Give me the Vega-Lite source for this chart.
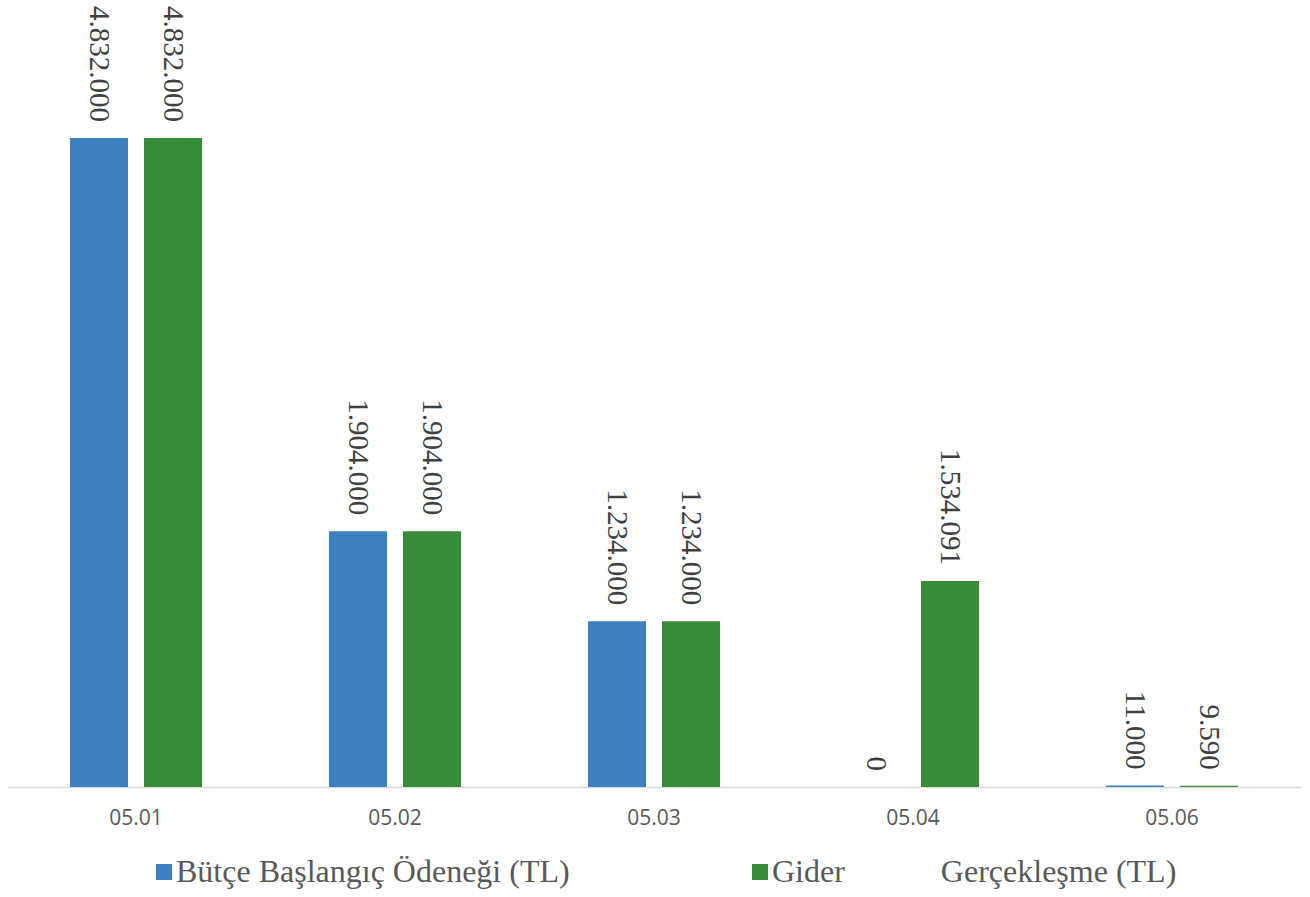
{
  "$schema": "https://vega.github.io/schema/vega-lite/v6.json",
  "width": 1294,
  "height": 787,
  "autosize": {"type": "none"},
  "padding": {"left": 7, "right": 9, "top": 0, "bottom": 110},
  "background": "#ffffff",
  "config": {
    "view": {"stroke": null},
    "text": {"font": "Liberation Serif, Times New Roman, serif"},
    "locale": {"number": {"decimal": ",", "thousands": ".", "grouping": [3], "currency": ["", " TL"]}}
  },
  "data": {
    "values": [
      {"kod": "05.01", "seri": "Bütçe Başlangıç Ödeneği (TL)", "deger": 4832000},
      {"kod": "05.01", "seri": "Gider\u00a0\u00a0\u00a0\u00a0\u00a0\u00a0\u00a0\u00a0\u00a0\u00a0\u00a0\u00a0Gerçekleşme (TL)", "deger": 4832000},
      {"kod": "05.02", "seri": "Bütçe Başlangıç Ödeneği (TL)", "deger": 1904000},
      {"kod": "05.02", "seri": "Gider\u00a0\u00a0\u00a0\u00a0\u00a0\u00a0\u00a0\u00a0\u00a0\u00a0\u00a0\u00a0Gerçekleşme (TL)", "deger": 1904000},
      {"kod": "05.03", "seri": "Bütçe Başlangıç Ödeneği (TL)", "deger": 1234000},
      {"kod": "05.03", "seri": "Gider\u00a0\u00a0\u00a0\u00a0\u00a0\u00a0\u00a0\u00a0\u00a0\u00a0\u00a0\u00a0Gerçekleşme (TL)", "deger": 1234000},
      {"kod": "05.04", "seri": "Bütçe Başlangıç Ödeneği (TL)", "deger": 0},
      {"kod": "05.04", "seri": "Gider\u00a0\u00a0\u00a0\u00a0\u00a0\u00a0\u00a0\u00a0\u00a0\u00a0\u00a0\u00a0Gerçekleşme (TL)", "deger": 1534091},
      {"kod": "05.06", "seri": "Bütçe Başlangıç Ödeneği (TL)", "deger": 11000},
      {"kod": "05.06", "seri": "Gider\u00a0\u00a0\u00a0\u00a0\u00a0\u00a0\u00a0\u00a0\u00a0\u00a0\u00a0\u00a0Gerçekleşme (TL)", "deger": 9590}
    ]
  },
  "encoding": {
    "x": {
      "field": "kod", "type": "nominal", "title": null,
      "scale": {"paddingInner": 0.49, "paddingOuter": 0.243},
      "axis": {
        "labelAngle": 0, "ticks": false, "domainColor": "#d9d9d9", "domainWidth": 1.5,
        "labelFont": "Open Sans", "labelFontSize": 21, "labelColor": "#595959",
        "labelPadding": 20, "grid": false
      }
    },
    "xOffset": {
      "field": "seri", "type": "nominal",
      "scale": {"domain": ["Bütçe Başlangıç Ödeneği (TL)", "Gider\u00a0\u00a0\u00a0\u00a0\u00a0\u00a0\u00a0\u00a0\u00a0\u00a0\u00a0\u00a0Gerçekleşme (TL)"], "paddingInner": 0.216, "paddingOuter": 0}
    },
    "y": {
      "field": "deger", "type": "quantitative",
      "scale": {"domain": [0, 5859000], "nice": false, "zero": true},
      "axis": null
    }
  },
  "layer": [
    {
      "mark": {"type": "bar"},
      "encoding": {
        "color": {
          "field": "seri", "type": "nominal",
          "scale": {"domain": ["Bütçe Başlangıç Ödeneği (TL)", "Gider\u00a0\u00a0\u00a0\u00a0\u00a0\u00a0\u00a0\u00a0\u00a0\u00a0\u00a0\u00a0Gerçekleşme (TL)"], "range": ["#3d80c0", "#388b37"]},
          "legend": {
            "title": null, "orient": "none", "legendX": 141, "legendY": 856,
            "direction": "horizontal", "columns": 2, "padding": 0,
            "symbolType": "square", "symbolSize": 256, "symbolStrokeWidth": 0, "symbolOffset": 0,
            "labelFont": "Liberation Serif, Times New Roman, serif", "labelFontSize": 32, "labelColor": "#595959",
            "labelOffset": -4, "labelLimit": 1000, "columnPadding": 174, "labelBaseline": "middle"
          }
        }
      }
    },
    {
      "mark": {
        "type": "text", "angle": 90, "align": "right", "baseline": "middle", "dx": -16,
        "font": "Liberation Serif, Times New Roman, serif", "fontSize": 29, "fill": "#404040"
      },
      "encoding": {
        "text": {"field": "deger", "type": "quantitative", "format": ",d"}
      }
    }
  ]
}
